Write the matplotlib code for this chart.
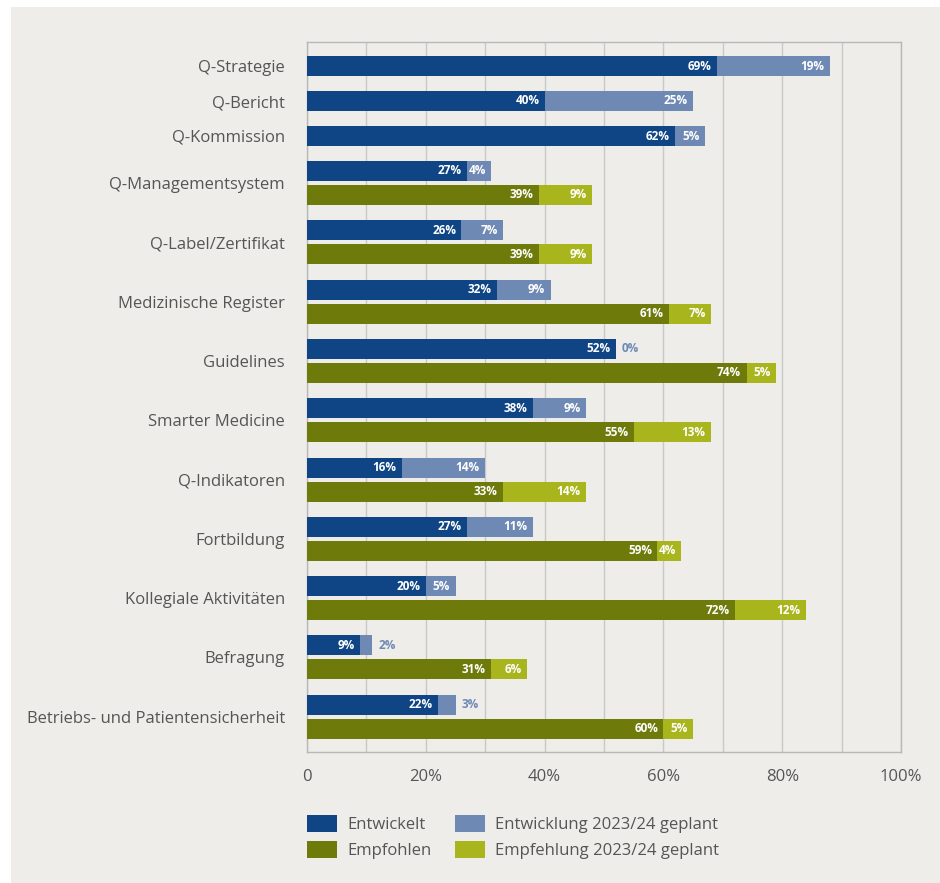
import matplotlib
matplotlib.use("Agg")
import matplotlib.pyplot as plt
from matplotlib.patches import Rectangle, Patch

plt.rcParams['font.family'] = ['Open Sans', 'DejaVu Sans']

# Daten
kategorien = ["Q-Strategie", "Q-Bericht", "Q-Kommission", "Q-Managementsystem",
              "Q-Label/Zertifikat", "Medizinische Register", "Guidelines",
              "Smarter Medicine", "Q-Indikatoren", "Fortbildung",
              "Kollegiale Aktivitäten", "Befragung",
              "Betriebs- und Patientensicherheit"]
entwickelt = [69, 40, 62, 27, 26, 32, 52, 38, 16, 27, 20, 9, 22]
entw_geplant = [19, 25, 5, 4, 7, 9, 0, 9, 14, 11, 5, 2, 3]
empfohlen = [None, None, None, 39, 39, 61, 74, 55, 33, 59, 72, 31, 60]
empf_geplant = [None, None, None, 9, 9, 7, 5, 13, 14, 4, 12, 6, 5]
x_ticks = [0, 20, 40, 60, 80, 100]
x_tick_labels = ["0", "20%", "40%", "60%", "80%", "100%"]
legende = ["Entwickelt", "Empfohlen", "Entwicklung 2023/24 geplant", "Empfehlung 2023/24 geplant"]

# Farben
c_blau = "#0f4584"
c_hellblau = "#6f89b5"
c_oliv = "#6e7b0b"
c_gelbgruen = "#a9b51d"
c_text = "#555555"
c_bg = "#efede9"

fig = plt.figure(figsize=(9.4, 8.83), dpi=100, facecolor=c_bg)
fig.patches.append(Rectangle((0, 0), 11 / 940, 1, transform=fig.transFigure,
                             facecolor="white", edgecolor="none", zorder=0))
fig.patches.append(Rectangle((0, 1 - 7 / 883), 1, 7 / 883, transform=fig.transFigure,
                             facecolor="white", edgecolor="none", zorder=0))

ax = fig.add_axes([307 / 940, 1 - 752 / 883, 594 / 940, 710 / 883])
ax.set_facecolor(c_bg)

bar_h = 20
pos = 0
label_pos = []


def segment_label(ax, x0, w, y, farbe_aussen):
    if w <= 3:
        ax.text(x0 + w + 1.0, y, f"{w}%", ha="left", va="center",
                fontsize=8.5, fontweight="bold", color=farbe_aussen)
    else:
        ax.text(x0 + w - 0.9, y, f"{w}%", ha="right", va="center",
                fontsize=8.5, fontweight="bold", color="white")


for i in range(len(kategorien)):
    y_b = pos
    ax.barh(y_b, entwickelt[i], height=bar_h, color=c_blau, zorder=3)
    ax.barh(y_b, entw_geplant[i], left=entwickelt[i], height=bar_h, color=c_hellblau, zorder=3)
    segment_label(ax, 0, entwickelt[i], y_b, c_hellblau)
    segment_label(ax, entwickelt[i], entw_geplant[i], y_b, c_hellblau)
    if empfohlen[i] is None:
        label_pos.append(y_b)
        pos += 35
    else:
        y_g = pos + 24
        ax.barh(y_g, empfohlen[i], height=bar_h, color=c_oliv, zorder=3)
        ax.barh(y_g, empf_geplant[i], left=empfohlen[i], height=bar_h, color=c_gelbgruen, zorder=3)
        segment_label(ax, 0, empfohlen[i], y_g, c_gelbgruen)
        segment_label(ax, empfohlen[i], empf_geplant[i], y_g, c_gelbgruen)
        label_pos.append(y_b + 12)
        pos += 59.3

ax.set_ylim(686, -24)
ax.set_xlim(0, 100)

ax.set_yticks(label_pos)
ax.set_yticklabels(kategorien, fontsize=12, color=c_text)
ax.tick_params(axis="y", length=0, pad=16)

ax.set_xticks(x_ticks)
ax.set_xticklabels(x_tick_labels, fontsize=12, color=c_text)
ax.set_xticks(range(0, 101, 10), minor=True)
ax.tick_params(axis="x", which="both", length=0, pad=12)
ax.grid(axis="x", which="both", color="#c9c9c9", linewidth=1, zorder=0)
ax.set_axisbelow(True)

for s in ax.spines.values():
    s.set_color("#b8b8b8")
    s.set_linewidth(1)

handles = [Patch(facecolor=c_blau), Patch(facecolor=c_oliv),
           Patch(facecolor=c_hellblau), Patch(facecolor=c_gelbgruen)]
fig.legend(handles, legende, ncol=2, loc="upper left",
           bbox_to_anchor=(307 / 940, 1 - 815 / 883), frameon=False,
           fontsize=12, labelcolor=c_text, handlelength=1.8, handleheight=1.2,
           handletextpad=0.6, columnspacing=1.45, labelspacing=0.45, borderpad=0,
           borderaxespad=0)

fig.savefig("out.png", dpi=100, facecolor=c_bg)
